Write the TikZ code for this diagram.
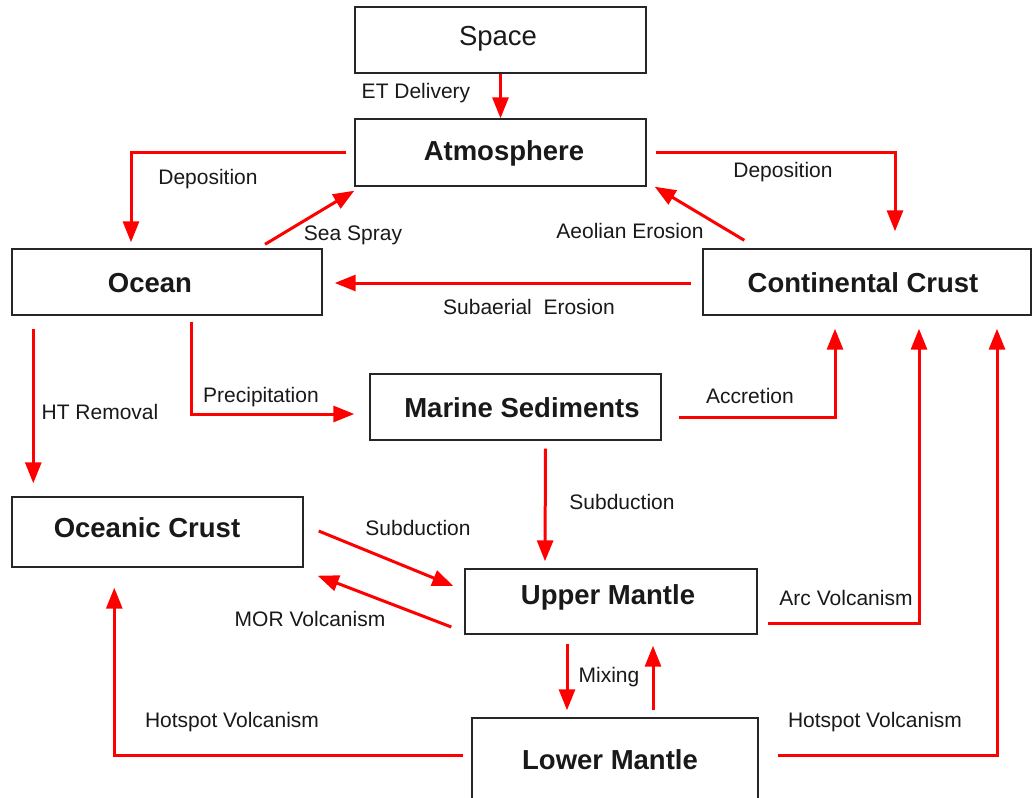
\documentclass[tikz,border=0pt]{standalone}
\usepackage{fontspec}
\setmainfont{Liberation Sans}
\usetikzlibrary{calc,arrows.meta}
\begin{document}
\begin{tikzpicture}[x=1pt,y=-1pt,
  box/.style={draw=black!85,line width=1.4pt,inner sep=0pt,fill=white},
  boxtext/.style={inner sep=0pt,font=\fontsize{27.5}{32}\selectfont\bfseries,text=black!90},
  plaintext/.style={inner sep=0pt,font=\fontsize{27.5}{32}\selectfont,text=black!90},
  lbl/.style={inner sep=0pt,font=\fontsize{21}{25}\selectfont,text=black!90},
  arr/.style={draw=red,line width=3pt,-{Triangle[length=21pt,width=16pt]}}]
\clip (0,0) rectangle (1034,798);
\fill[white] (0,0) rectangle (1034,798);
% boxes
\node[box,minimum width=291,minimum height=66] (space) at (500.5,40) {};
\node[plaintext] at (498,39) {Space};
\node[box,minimum width=291,minimum height=67] (atm) at (500.5,152.5) {};
\node[boxtext] at (504,153) {Atmosphere};
\node[box,minimum width=310,minimum height=66] (ocean) at (167,282) {};
\node[boxtext] at (150,283) {Ocean};
\node[box,minimum width=328,minimum height=66] (cont) at (867,282) {};
\node[boxtext] at (863,283) {Continental Crust};
\node[box,minimum width=291,minimum height=66] (marine) at (515.5,407) {};
\node[boxtext] at (522,408) {Marine Sediments};
\node[box,minimum width=291,minimum height=70] (oceanic) at (157.5,532) {};
\node[boxtext] at (147,528) {Oceanic Crust};
\node[box,minimum width=292,minimum height=65] (upper) at (611,601.5) {};
\node[boxtext] at (608,597) {Upper Mantle};
\node[box,minimum width=286,minimum height=84] (lower) at (615,760) {};
\node[boxtext] at (610,760) {Lower Mantle};
% connectors
\draw[arr] (space.south) -- (atm.north);
\draw[arr] ($(atm.west)+(-8,0)$) -| ($(ocean.north)+(-36,-6)$);
\draw[arr] ($(atm.east)+(9,0)$) -| ($(cont.north)+(28,-17)$);
\draw[arr] ($(ocean.north)+(98,-4)$) -- ($(atm.south west)+(0,4)$);
\draw[arr] ($(cont.north west)+(42,-8)$) -- ($(atm.south east)+(8,0)$);
\draw[arr] ($(cont.west)+(-11,1)$) -- ($(ocean.east)+(12,1)$);
\draw[arr] ($(ocean.south west)+(22,13)$) -- ($(oceanic.north west)+(22,-13)$);
\draw[arr] ($(ocean.south)+(24,6)$) |- ($(marine.west)+(-15,7)$);
\draw[arr] ($(marine.east)+(17,10)$) -| ($(cont.south)+(-32,13)$);
\draw[arr] ($(marine.south)+(30,8)$) -- ($(upper.north)+(-66,-7)$);
\draw[arr] ($(oceanic.east)+(15,-1)$) -- ($(upper.west)+(-11,-15.5)$);
\draw[arr] ($(upper.west)+(-13,25.5)$) -- ($(oceanic.south east)+(14,8)$);
\draw[arr] ($(upper.east)+(10,22)$) -| ($(cont.south)+(52,13)$);
\draw[arr] ($(lower.east)+(19,-5)$) -| ($(cont.south)+(130,13)$);
\draw[arr] ($(lower.west)+(-8,-5)$) -| ($(oceanic.south west)+(103,20)$);
\draw[arr] ($(upper.south)+(-44,9)$) -- ($(lower.north)+(-48,-7)$);
\draw[arr] ($(lower.north)+(38,-7)$) -- ($(upper.south)+(42,11)$);
% labels
\node[lbl] (l1) at (416,93) {ET Delivery};
\node[lbl] (l2) at (208,179) {Deposition};
\node[lbl] (l3) at (353,235) {Sea Spray};
\node[lbl] (l4) at (783,172) {Deposition};
\node[lbl] (l5) at (630,231) {Aeolian Erosion};
\node[lbl] (l6) at (529,307) {Subaerial\ \ Erosion};
\node[lbl] (l7) at (100,412) {HT Removal};
\node[lbl] (l8) at (261,397) {Precipitation};
\node[lbl] (l9) at (750,396) {Accretion};
\node[lbl] (l10) at (622,502) {Subduction};
\node[lbl] (l11) at (418,528) {Subduction};
\node[lbl] (l12) at (846,598) {Arc Volcanism};
\node[lbl] (l13) at (310,619) {MOR Volcanism};
\node[lbl] (l14) at (232,722) {Hotspot Volcanism};
\node[lbl] (l15) at (875,722) {Hotspot Volcanism};
\node[lbl] (l16) at (609,677) {Mixing};
\end{tikzpicture}
\end{document}
